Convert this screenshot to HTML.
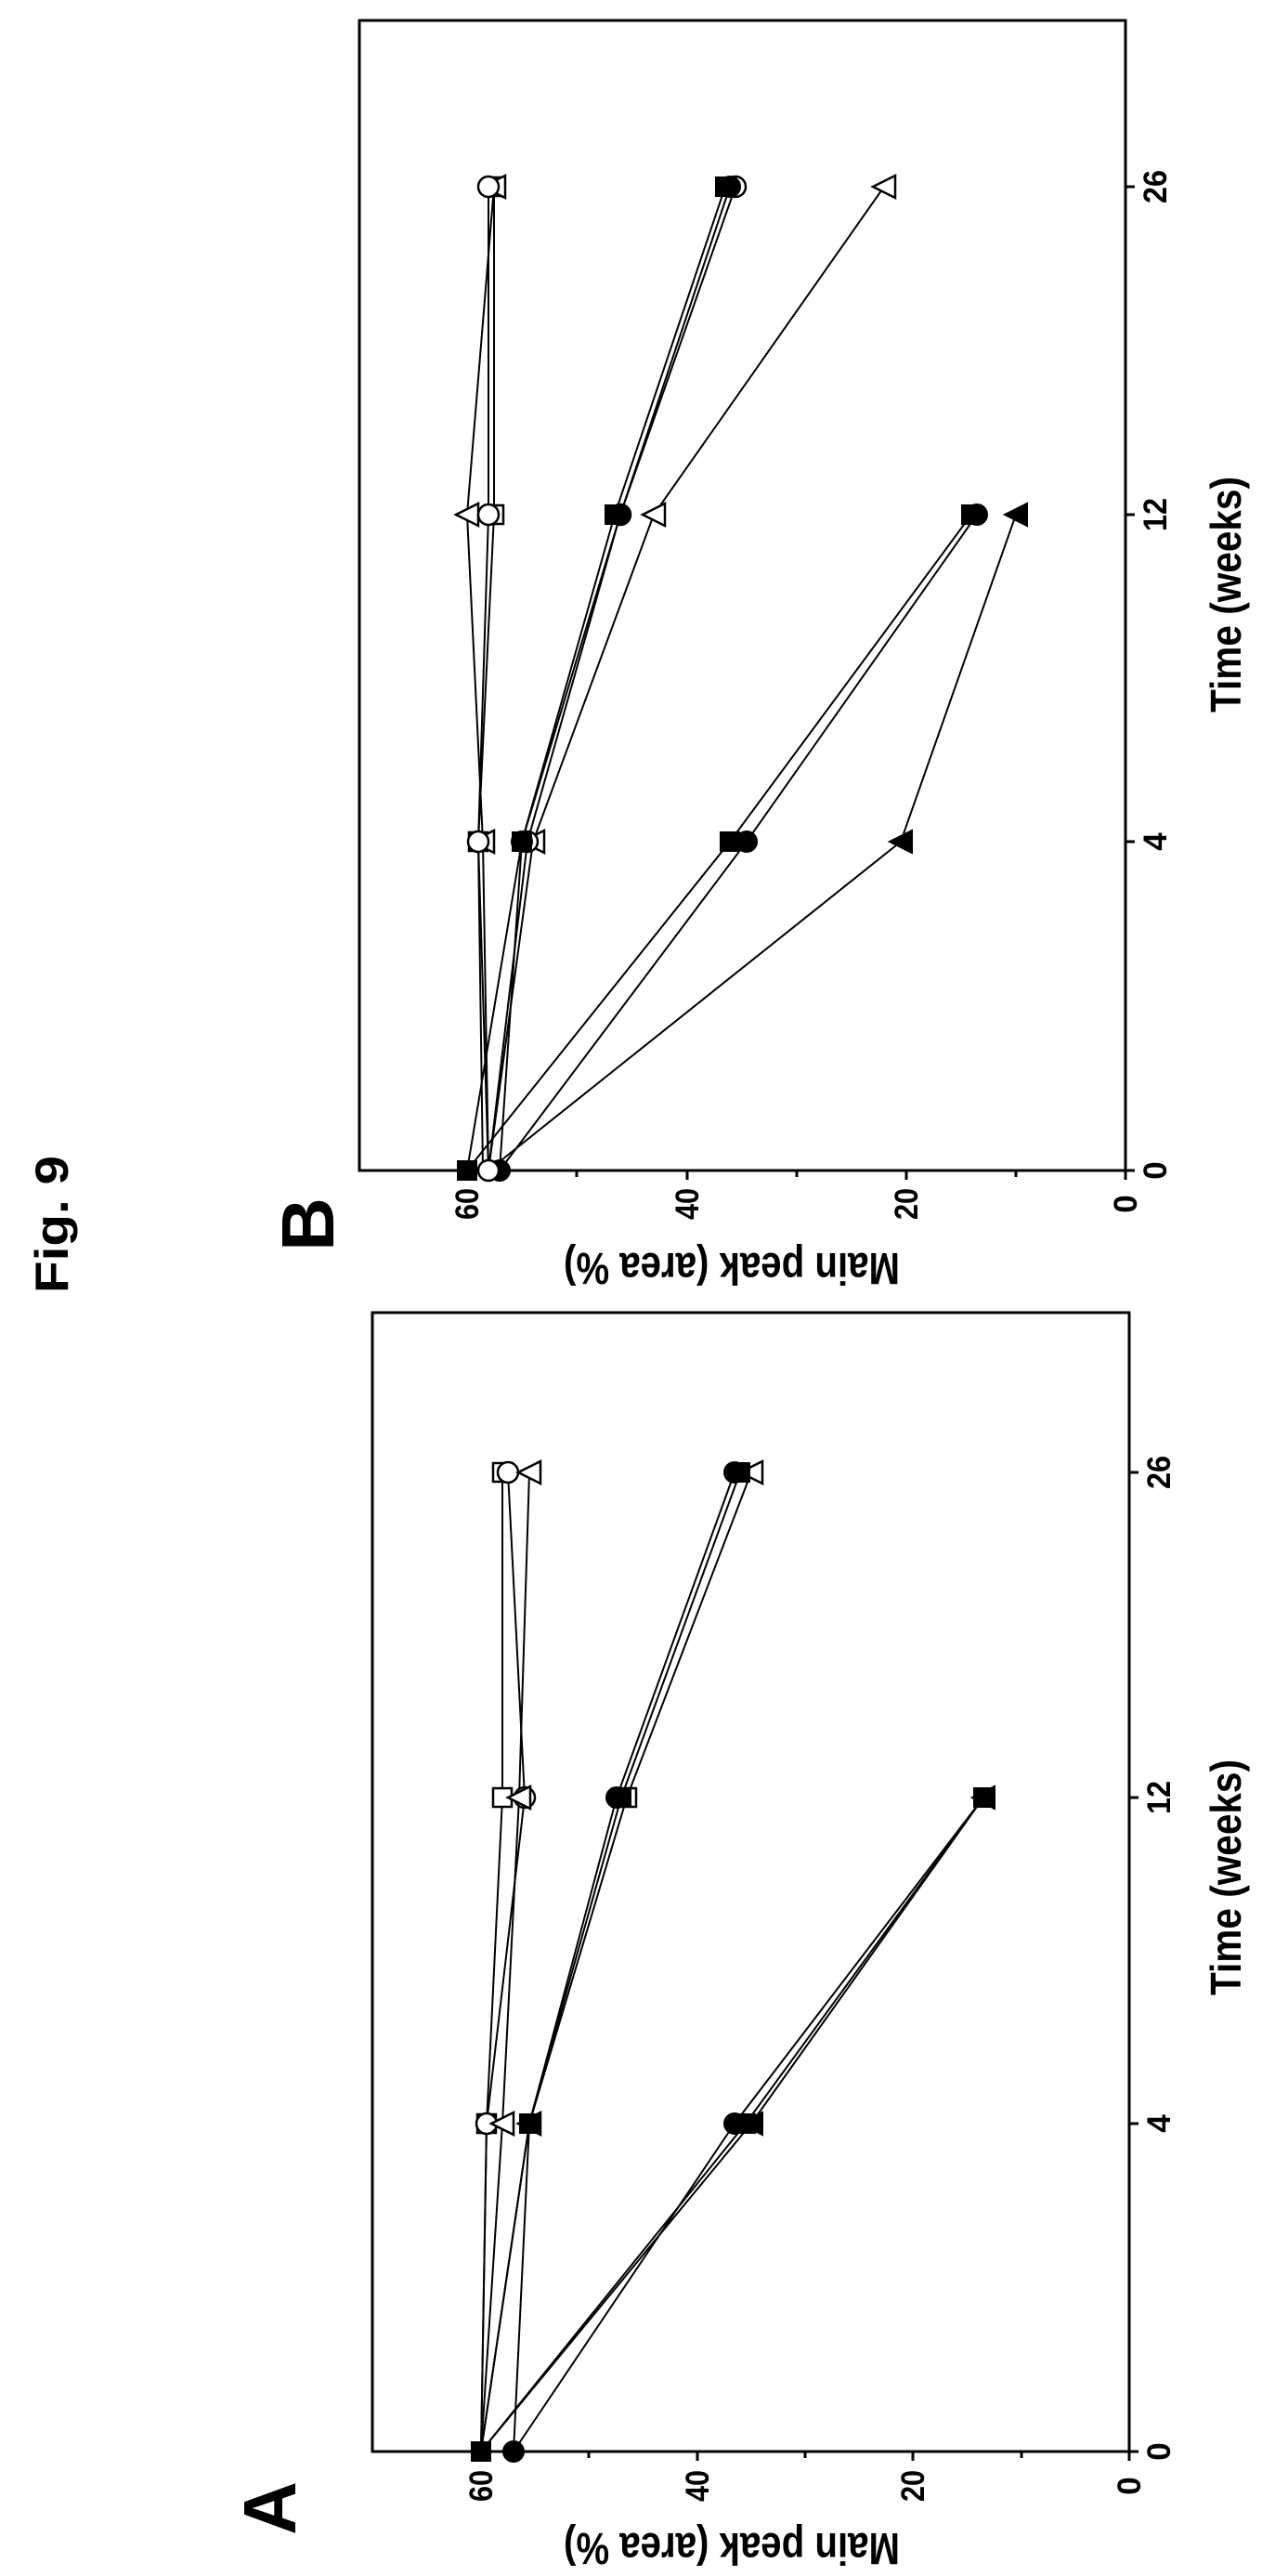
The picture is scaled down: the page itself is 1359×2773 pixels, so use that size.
<!DOCTYPE html>
<html><head><meta charset="utf-8"><style>
html,body{margin:0;padding:0;background:#fff;}
svg{display:block;}
text{font-family:"Liberation Sans",Arial,sans-serif;font-weight:bold;fill:#000;}
</style></head><body>
<svg width="1359" height="2773" viewBox="0 0 1359 2773" xmlns="http://www.w3.org/2000/svg">
<defs>
<circle id="oc" r="11" fill="#fff" stroke="#000" stroke-width="2.5"/>
<circle id="fc" r="11" fill="#000" stroke="#000" stroke-width="2"/>
<rect id="os" x="-10" y="-10" width="20" height="20" fill="#fff" stroke="#000" stroke-width="2.5"/>
<rect id="fs" x="-10" y="-10" width="20" height="20" fill="#000" stroke="#000" stroke-width="2"/>
<polygon id="ot" points="-12,0 12,-12 12,12" fill="#fff" stroke="#000" stroke-width="2.5"/>
<polygon id="ft" points="-12,0 12,-12 12,12" fill="#000" stroke="#000" stroke-width="2"/>
</defs>

<text x="56" y="1318" font-size="50" text-anchor="middle" textLength="148" lengthAdjust="spacingAndGlyphs" transform="rotate(-90 56 1318)" dy="17">Fig. 9</text>

<!-- Panel B -->
<text x="331" y="1318" font-size="80" text-anchor="middle" transform="rotate(-90 331 1318)" dy="28">B</text>
<rect x="387" y="22" width="825" height="1238" fill="none" stroke="#000" stroke-width="3"/>
<g stroke="#000" stroke-width="3">
<line x1="1212" y1="1260" x2="1222" y2="1260"/><line x1="1212" y1="906" x2="1222" y2="906"/>
<line x1="1212" y1="554" x2="1222" y2="554"/><line x1="1212" y1="201" x2="1222" y2="201"/>
<line x1="1212" y1="1260" x2="1212" y2="1270"/><line x1="976" y1="1260" x2="976" y2="1270"/>
<line x1="740" y1="1260" x2="740" y2="1270"/><line x1="503" y1="1260" x2="503" y2="1270"/>
<line x1="858" y1="1260" x2="858" y2="1267"/><line x1="1094" y1="1260" x2="1094" y2="1267"/>
<line x1="621" y1="1260" x2="621" y2="1267"/>
</g>
<g font-size="35" text-anchor="middle">
<text x="1244" y="1260" transform="rotate(-90 1244 1260)" dy="12">0</text>
<text x="1244" y="906" transform="rotate(-90 1244 906)" dy="12">4</text>
<text x="1244" y="554" transform="rotate(-90 1244 554)" dy="12" textLength="36" lengthAdjust="spacingAndGlyphs">12</text>
<text x="1244" y="201" transform="rotate(-90 1244 201)" dy="12" textLength="36" lengthAdjust="spacingAndGlyphs">26</text>
<text x="1212" y="1296" transform="rotate(-90 1212 1296)" dy="12">0</text>
<text x="976" y="1296" transform="rotate(-90 976 1296)" dy="12" textLength="34" lengthAdjust="spacingAndGlyphs">20</text>
<text x="740" y="1296" transform="rotate(-90 740 1296)" dy="12" textLength="34" lengthAdjust="spacingAndGlyphs">40</text>
<text x="503" y="1296" transform="rotate(-90 503 1296)" dy="12" textLength="34" lengthAdjust="spacingAndGlyphs">60</text>
</g>
<text x="1320" y="640" font-size="46" text-anchor="middle" textLength="254" lengthAdjust="spacingAndGlyphs" transform="rotate(-90 1320 640)" dy="16">Time (weeks)</text>
<text x="788" y="1365" font-size="48" text-anchor="middle" textLength="362" lengthAdjust="spacingAndGlyphs" transform="rotate(180 788 1365)" dy="16">Main peak (area %)</text>
<g fill="none" stroke="#000" stroke-width="2">
<polyline points="526,1260 515,906 526,554 526,201"/>
<polyline points="520,1260 515,906 532,554 532,201"/>
<polyline points="526,1260 520,906 503,554 532,201"/>
<polyline points="503,1260 562,906 662,554 781,201"/>
<polyline points="526,1260 568,906 668,554 792,201"/>
<polyline points="526,1260 574,906 704,554 952,201"/>
<polyline points="503,1260 786,906 1046,554"/>
<polyline points="538,1260 804,906 1052,554"/>
<polyline points="526,1260 970,906 1094,554"/>
<polyline points="538,1260 562,906 668,554 786,201"/>
</g>
<use href="#os" x="515" y="906"/><use href="#os" x="532" y="554"/><use href="#os" x="532" y="201"/>
<use href="#ot" x="520" y="906"/><use href="#ot" x="503" y="554"/><use href="#ot" x="532" y="201"/>
<use href="#oc" x="515" y="906"/><use href="#oc" x="526" y="554"/><use href="#oc" x="526" y="201"/>
<use href="#ot" x="574" y="906"/><use href="#ot" x="704" y="554"/><use href="#ot" x="952" y="201"/>
<use href="#oc" x="568" y="906"/><use href="#oc" x="668" y="554"/><use href="#oc" x="792" y="201"/>
<use href="#fc" x="562" y="906"/><use href="#fc" x="668" y="554"/><use href="#fc" x="786" y="201"/>
<use href="#fs" x="562" y="906"/><use href="#fs" x="662" y="554"/><use href="#fs" x="781" y="201"/>
<use href="#ft" x="970" y="906"/><use href="#ft" x="1094" y="554"/>
<use href="#fc" x="804" y="906"/><use href="#fc" x="1052" y="554"/>
<use href="#fs" x="786" y="906"/><use href="#fs" x="1046" y="554"/>
<use href="#fc" x="538" y="1260"/><use href="#fs" x="503" y="1260"/><use href="#oc" x="526" y="1260"/>

<!-- Panel A -->
<text x="290" y="2700" font-size="80" text-anchor="middle" transform="rotate(-90 290 2700)" dy="28">A</text>
<rect x="401" y="1413" width="815" height="1226" fill="none" stroke="#000" stroke-width="3"/>
<g stroke="#000" stroke-width="3">
<line x1="1216" y1="2639" x2="1226" y2="2639"/><line x1="1216" y1="2286" x2="1226" y2="2286"/>
<line x1="1216" y1="1935" x2="1226" y2="1935"/><line x1="1216" y1="1585" x2="1226" y2="1585"/>
<line x1="1216" y1="2639" x2="1216" y2="2649"/><line x1="983" y1="2639" x2="983" y2="2649"/>
<line x1="751" y1="2639" x2="751" y2="2649"/><line x1="518" y1="2639" x2="518" y2="2649"/>
<line x1="1100" y1="2639" x2="1100" y2="2646"/><line x1="867" y1="2639" x2="867" y2="2646"/>
<line x1="634" y1="2639" x2="634" y2="2646"/>
</g>
<g font-size="35" text-anchor="middle">
<text x="1248" y="2639" transform="rotate(-90 1248 2639)" dy="12">0</text>
<text x="1248" y="2286" transform="rotate(-90 1248 2286)" dy="12">4</text>
<text x="1248" y="1935" transform="rotate(-90 1248 1935)" dy="12" textLength="36" lengthAdjust="spacingAndGlyphs">12</text>
<text x="1248" y="1585" transform="rotate(-90 1248 1585)" dy="12" textLength="36" lengthAdjust="spacingAndGlyphs">26</text>
<text x="1216" y="2676" transform="rotate(-90 1216 2676)" dy="12">0</text>
<text x="983" y="2676" transform="rotate(-90 983 2676)" dy="12" textLength="34" lengthAdjust="spacingAndGlyphs">20</text>
<text x="751" y="2676" transform="rotate(-90 751 2676)" dy="12" textLength="34" lengthAdjust="spacingAndGlyphs">40</text>
<text x="518" y="2676" transform="rotate(-90 518 2676)" dy="12" textLength="34" lengthAdjust="spacingAndGlyphs">60</text>
</g>
<text x="1320" y="2021" font-size="46" text-anchor="middle" textLength="254" lengthAdjust="spacingAndGlyphs" transform="rotate(-90 1320 2021)" dy="16">Time (weeks)</text>
<text x="788" y="2743" font-size="48" text-anchor="middle" textLength="362" lengthAdjust="spacingAndGlyphs" transform="rotate(180 788 2743)" dy="16">Main peak (area %)</text>
<g fill="none" stroke="#000" stroke-width="2">
<polyline points="518,2639 524,2286 541,1935 541,1585"/>
<polyline points="518,2639 524,2286 565,1935 547,1585"/>
<polyline points="518,2639 541,2286 559,1935 570,1585"/>
<polyline points="518,2639 570,2286 669,1935 797,1585"/>
<polyline points="553,2639 570,2286 664,1935 791,1585"/>
<polyline points="518,2639 570,2286 675,1935 809,1585"/>
<polyline points="553,2639 791,2286 1059,1935"/>
<polyline points="518,2639 803,2286 1059,1935"/>
<polyline points="518,2639 809,2286 1059,1935"/>
</g>
<use href="#os" x="524" y="2286"/><use href="#os" x="541" y="1935"/><use href="#os" x="541" y="1585"/>
<use href="#oc" x="524" y="2286"/><use href="#oc" x="565" y="1935"/><use href="#oc" x="547" y="1585"/>
<use href="#ot" x="541" y="2286"/><use href="#ot" x="559" y="1935"/><use href="#ot" x="570" y="1585"/>
<use href="#ot" x="570" y="2286"/><use href="#os" x="675" y="1935"/><use href="#ot" x="809" y="1585"/>
<use href="#fs" x="570" y="2286"/><use href="#fs" x="669" y="1935"/><use href="#fs" x="797" y="1585"/>
<use href="#fc" x="664" y="1935"/><use href="#fc" x="791" y="1585"/>
<use href="#ft" x="809" y="2286"/><use href="#fs" x="803" y="2286"/><use href="#fc" x="791" y="2286"/>
<use href="#ft" x="1059" y="1935"/><use href="#fs" x="1059" y="1935"/>
<use href="#fs" x="518" y="2639"/><use href="#fc" x="553" y="2639"/>
</svg>
</body></html>
